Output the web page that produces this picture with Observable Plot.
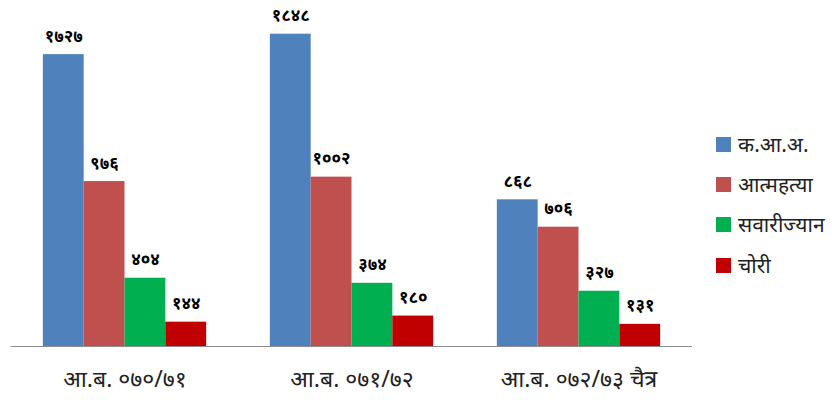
<!DOCTYPE html>
<html>
<head>
<meta charset="utf-8">
<script src="https://cdn.jsdelivr.net/npm/d3@7"></script>
<script src="https://cdn.jsdelivr.net/npm/@observablehq/plot@0.6"></script>
<style>
  body { margin: 0; background: #fff; }
  #wrap { position: relative; width: 832px; height: 400px; font-family: "Noto Sans", "Noto Sans Devanagari", sans-serif; }
  #legend { position: absolute; left: 716px; top: 124px; }
  .item { display: flex; align-items: center; height: 40.3px; }
  .sw { width: 15px; height: 15px; margin-right: 7px; flex: none; }
  .lab { font-size: 21px; color: #222; line-height: 1; }
</style>
</head>
<body>
<div id="wrap"></div>
<script>
const periods = ["आ.ब. ०७०/७१", "आ.ब. ०७१/७२", "आ.ब. ०७२/७३ चैत्र"];
const series = ["क.आ.अ.", "आत्महत्या", "सवारीज्यान", "चोरी"];
const colors = ["#4F81BD", "#C0504D", "#00B050", "#C00000"];
const values = [
  [1727, 976, 404, 144],
  [1848, 1002, 374, 180],
  [868, 706, 327, 131]
];
const valueLabels = [
  ["१७२७", "९७६", "४०४", "१४४"],
  ["१८४८", "१००२", "३७४", "१८०"],
  ["८६८", "७०६", "३२७", "१३१"]
];

const data = [];
periods.forEach((p, i) => series.forEach((s, j) => data.push({period: p, series: s, value: values[i][j], label: valueLabels[i][j]})));

const W = 832, ML = 10, MR = 139;
const fw = (W - ML - MR) / periods.length;
const edges = periods.map(p => ({period: p, dx: -fw / 2})).concat([{period: periods[periods.length - 1], dx: fw / 2}]);

const chart = Plot.plot({
  width: W,
  height: 400,
  marginLeft: ML,
  marginRight: MR,
  marginTop: 8,
  marginBottom: 54,
  style: {fontFamily: '"Noto Sans", "Noto Sans Devanagari", sans-serif', background: "#fff"},
  fx: {domain: periods, padding: 0, label: null},
  x: {domain: series, paddingInner: 0, paddingOuter: 0.78, align: 0.5, round: false, axis: null},
  y: {domain: [0, 2000], axis: null},
  color: {domain: series, range: colors},
  marks: [
    Plot.barY(data, {fx: "period", x: "series", y: "value", fill: "series"}),
    Plot.text(data, {fx: "period", x: "series", y: "value", text: "label", lineAnchor: "bottom", dy: -13, fontSize: 17, fontWeight: "bold", fill: "#000"}),
    Plot.ruleY([0], {stroke: "#8c8c8c", strokeWidth: 1}),
    ...edges.map(e => Plot.ruleX([e], {fx: "period", y1: 0, y2: 0, insetBottom: -6, dx: e.dx, stroke: "#8c8c8c"})),
    Plot.axisFx({anchor: "bottom", tickSize: 0, tickPadding: 24, fontSize: 23, fill: "#222", label: null})
  ]
});

const wrap = document.getElementById("wrap");
wrap.appendChild(chart);
const legend = document.createElement("div");
legend.id = "legend";
series.forEach((s, j) => {
  const it = document.createElement("div");
  it.className = "item";
  it.innerHTML = `<div class="sw" style="background:${colors[j]}"></div><div class="lab">${s}</div>`;
  legend.appendChild(it);
});
wrap.appendChild(legend);
</script>
</body>
</html>
